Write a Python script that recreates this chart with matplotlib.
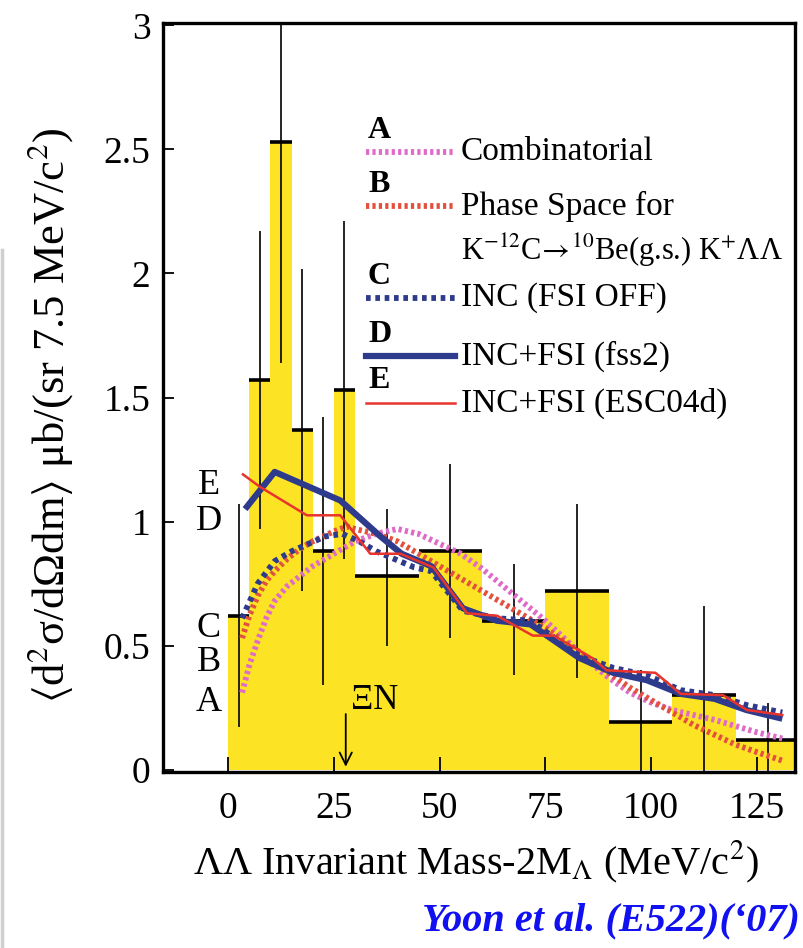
import matplotlib
matplotlib.use("Agg")
import matplotlib.pyplot as plt
from matplotlib.lines import Line2D
import numpy as np

plt.rcParams['font.family'] = ['Liberation Serif', 'DejaVu Serif']
plt.rcParams['mathtext.fontset'] = 'stix'

# ---------------- data ----------------
bin_edges = [0, 5, 10, 15, 20, 25, 30, 45, 60, 75, 90, 105, 120, 135]
bin_centers = [2.5, 7.5, 12.5, 17.5, 22.5, 27.5, 37.5, 52.5, 67.5, 82.5, 97.5, 112.5, 127.5]
counts = [0.62, 1.57, 2.53, 1.37, 0.88, 1.53, 0.78, 0.88, 0.60, 0.72, 0.19, 0.30, 0.12]
err_lo = [0.45, 0.60, 0.89, 0.65, 0.54, 0.68, 0.28, 0.35, 0.22, 0.35, 0.21, 0.36, 0.15]
err_hi = [0.45, 0.60, 0.89, 0.65, 0.54, 0.68, 0.27, 0.35, 0.23, 0.35, 0.21, 0.36, 0.15]

# A: Combinatorial
a_x = [3.3, 5, 7, 9, 11, 14, 17, 20, 25, 30, 35, 40, 45, 50, 55, 60, 65, 70, 75, 80,
       85, 90, 95, 100, 105, 110, 115, 120, 125, 131]
a_y = [0.31, 0.42, 0.52, 0.61, 0.68, 0.74, 0.78, 0.82, 0.87, 0.92, 0.95, 0.97, 0.95, 0.91,
       0.87, 0.81, 0.74, 0.67, 0.60, 0.52, 0.44, 0.37, 0.31, 0.27, 0.24, 0.22, 0.20, 0.175,
       0.15, 0.125]
# B: Phase space
b_x = [3.3, 5, 7, 9, 11, 14, 17, 20, 25, 28, 30, 35, 40, 45, 50, 55, 60, 65, 70, 75, 80,
       85, 90, 95, 100, 105, 110, 115, 120, 125, 131]
b_y = [0.53, 0.62, 0.70, 0.76, 0.80, 0.85, 0.89, 0.92, 0.96, 0.98, 0.97, 0.95, 0.92, 0.87,
       0.82, 0.77, 0.72, 0.67, 0.62, 0.57, 0.51, 0.45, 0.39, 0.33, 0.28, 0.23, 0.18, 0.14,
       0.10, 0.07, 0.036]
# C: INC (FSI OFF)
c_x = [3.3, 7, 11, 15, 19, 23, 27, 31, 35, 44, 48, 55.5, 63.5, 71.5, 83, 91, 99, 107,
       115, 122.5, 131]
c_y = [0.61, 0.75, 0.84, 0.88, 0.91, 0.94, 0.95, 0.92, 0.88, 0.815, 0.80, 0.64, 0.61,
       0.60, 0.46, 0.41, 0.38, 0.32, 0.30, 0.26, 0.23]
# D: INC+FSI (fss2)
d_x = [4, 11, 26.5, 36, 41, 48, 55.5, 63.5, 71.5, 83, 91, 99, 107, 115, 122.5, 131]
d_y = [1.05, 1.20, 1.085, 0.94, 0.87, 0.82, 0.65, 0.60, 0.585, 0.45, 0.39, 0.36, 0.305,
       0.285, 0.24, 0.205]
# E: INC+FSI (ESC04d)
e_x = [3.5, 7.5, 18.6, 26.5, 33.6, 40.7, 48.5, 56.5, 63.6, 72, 77, 86, 89.5, 101, 107,
       117, 122.6, 131]
e_y = [1.19, 1.14, 1.025, 1.025, 0.87, 0.87, 0.815, 0.63, 0.62, 0.54, 0.54, 0.45, 0.40,
       0.39, 0.305, 0.30, 0.24, 0.22]

x_ticks = [0, 25, 50, 75, 100, 125]
y_ticks = [0, 0.5, 1, 1.5, 2, 2.5, 3]
y_ticklabels = ['0', '0.5', '1', '1.5', '2', '2.5', '3']

# ---------------- styles ----------------
YELLOW = '#FCE424'
PINK = '#DE6CC6'
RED_DOT = '#E2503E'
NAVY = '#2E3A8C'
RED = '#E8342C'

fig = plt.figure(figsize=(8.04, 9.48), dpi=100)
ax = fig.add_axes([163 / 804, 1 - 772 / 948, (795 - 163) / 804, (772 - 23) / 948])

ax.stairs(counts, bin_edges, fill=True, color=YELLOW, zorder=1)

half_w = [(bin_edges[i + 1] - bin_edges[i]) / 2 for i in range(len(counts))]
ax.errorbar(bin_centers, counts, yerr=[err_lo, err_hi], fmt='none', ecolor='black',
            elinewidth=1.2, capsize=0, zorder=3)
ax.errorbar(bin_centers, counts, xerr=half_w, fmt='none', ecolor='black',
            elinewidth=2.6, capsize=0, zorder=3)

dot = (0, (0.55, 0.55))
ax.plot(a_x, a_y, color=PINK, lw=4.2, ls=dot, zorder=4)
ax.plot(b_x, b_y, color=RED_DOT, lw=4.2, ls=dot, zorder=4)
ax.plot(c_x, c_y, color=NAVY, lw=4.2, ls=(0, (0.8, 0.8)), zorder=5)
ax.plot(d_x, d_y, color=NAVY, lw=4.5, solid_capstyle='butt', zorder=6)
ax.plot(e_x, e_y, color=RED, lw=1.8, zorder=7)

ax.set_xlim(-15.4, 134.0)
ax.set_ylim(-0.01, 3.01)
ax.set_xticks(x_ticks)
ax.set_xticklabels([str(t) for t in x_ticks])
ax.set_yticks(y_ticks)
ax.set_yticklabels(y_ticklabels)
ax.tick_params(axis='x', direction='in', length=11, width=1.3, labelsize=27, pad=14,
               top=False)
ax.tick_params(axis='y', direction='in', length=8, width=1.3, labelsize=27, pad=9,
               right=False)
for s in ax.spines.values():
    s.set_linewidth(2.4)

# curve letter labels at left
for lab, yv in zip(['E', 'D', 'C', 'B', 'A'], [1.145, 1.0, 0.57, 0.43, 0.27]):
    ax.text(-4.6, yv, lab, fontsize=26, ha='center', va='center', zorder=8)

# Xi N threshold arrow
ax.annotate('', xy=(27.8, 0.0), xytext=(27.8, 0.235),
            arrowprops=dict(arrowstyle='->', color='black', lw=1.3,
                            mutation_scale=22), zorder=8)
ax.text(29.0, 0.28, 'ΞN', fontsize=25, ha='left', va='center', zorder=8)

# legend (drawn manually)
def px2fig(x, y):
    return x / 804, 1 - y / 948

leg = [
    ('A', 152, PINK, 4.2, dot, 'Combinatorial'),
    ('B', 206, RED_DOT, 4.2, dot, 'Phase Space for'),
    ('C', 298, NAVY, 4.2, (0, (0.8, 0.8)), 'INC (FSI OFF)'),
    ('D', 356, NAVY, 4.5, '-', 'INC+FSI (fss2)'),
    ('E', 403, RED, 1.8, '-', 'INC+FSI (ESC04d)'),
]
for letter, yl, col, lw, ls, txt in leg:
    x0, y0 = px2fig(366, yl)
    x1, _ = px2fig(455, yl)
    fig.add_artist(Line2D([x0, x1], [y0, y0], color=col, lw=lw, ls=ls, transform=fig.transFigure))
    lx, ly = px2fig(368, yl - 22)
    fig.text(lx, ly, letter, fontsize=23, ha='left', va='center', fontweight='bold')
    tx, ty = px2fig(461, yl)
    fig.text(tx, ty, txt, fontsize=24, ha='left', va='center')
tx, ty = px2fig(461, 250)
fig.text(tx, ty, r'K$^{-12}$C$\!\rightarrow\!$$^{10}$Be(g.s.) K$^{+}$ΛΛ', fontsize=22,
         ha='left', va='center')

# axis labels
fig.text(476 / 804, 1 - 862 / 948, r'ΛΛ Invariant Mass-2M$_{\Lambda}$ (MeV/c$^{2}$)',
         fontsize=29, ha='center', va='center')
fig.text(50 / 804, 1 - 415 / 948,
         r'$\langle$d$^{2}$σ/dΩdm$\rangle$ μb/(sr 7.5 MeV/c$^{2}$)',
         fontsize=32, ha='center', va='center', rotation=90)

# citation
fig.text(800 / 804, 1 - 921 / 948, "Yoon et al. (E522)(\u201807)", fontsize=29,
         ha='right', va='center', color='#1010F0', fontweight='bold', fontstyle='italic')

# faint gray edge line on the left (scan artifact)
fig.add_artist(Line2D([2.5 / 804, 2.5 / 804], [1 - 250 / 948, 0], color='#cfcfcf', lw=2.5,
                      transform=fig.transFigure))

fig.savefig('out.png', dpi=100)
